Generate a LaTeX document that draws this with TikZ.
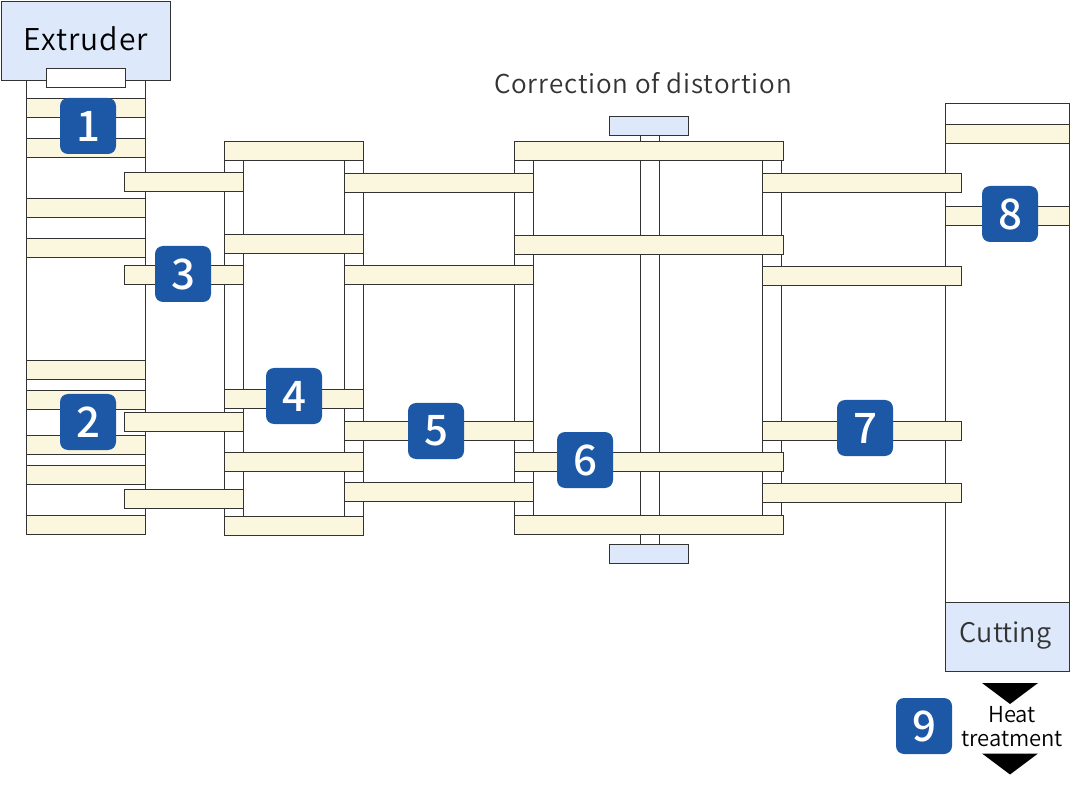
\documentclass[tikz,border=0pt]{standalone}
\usepackage{fontspec}
\setmainfont{Noto Sans CJK JP}[LetterSpace=0]
\newfontfamily\txtfont{Noto Sans CJK JP DemiLight}[LetterSpace=3.4]
\newfontfamily\tightfont{Noto Sans CJK JP DemiLight}
\newfontfamily\digitfont{Noto Sans CJK JP Medium}
\definecolor{ink}{HTML}{333333}
\definecolor{cream}{HTML}{FBF6DE}
\definecolor{pale}{HTML}{DDE9FA}
\definecolor{badgeblue}{HTML}{1D58A7}
\tikzset{
  line/.style={draw=ink,line width=0.9pt},
  tube/.style={line,fill=white},
  bar/.style={line,fill=cream},
  unit/.style={line,fill=pale},
  badge/.style={fill=badgeblue,text=white,rounded corners=8pt,minimum size=56pt,inner sep=0pt,font=\digitfont\fontsize{42}{42}\selectfont},
  label/.style={text=ink,inner sep=0pt,align=center},
  wedge/.style={fill=black}
}
\newcommand{\dg}[1]{\raisebox{-1.5pt}{#1}}
\begin{document}
\begin{tikzpicture}[x=1pt,y=-1pt]
\useasboundingbox (0,0) rectangle (1085,786);
% tubes
\draw[tube] (26.5,80) rectangle (145.5,534);
\draw[tube] (224.5,160) rectangle (243.5,516);
\draw[tube] (344.5,160) rectangle (363.5,516);
\draw[tube] (514.5,160) rectangle (533.5,515);
\draw[tube] (640.5,135) rectangle (659.5,544);
\draw[tube] (762.5,160) rectangle (781.5,515);
\draw[tube] (945.5,103.5) rectangle (1069.5,602);
% extruder
\draw[unit] (1.5,1.5) rectangle (170.5,80.5);
\draw[tube] (46.5,68.5) rectangle (125.5,87.5);
% bars column 1
\foreach \y in {98.5,138.5,198.5,238.5,360.5,390.5,435.5,465.5,515.5}
  \draw[bar] (26.5,\y) rectangle ++(119,19);
% bars column 2
\foreach \y in {172.5,265.5,412.5,489.5}
  \draw[bar] (124.5,\y) rectangle ++(119,19);
% bars column 3
\foreach \y in {141.5,234.5,389.5,452.5,516.5}
  \draw[bar] (224.5,\y) rectangle ++(139,19);
% bars column 4
\foreach \y in {173.5,265.5,421.5,482.5}
  \draw[bar] (344.5,\y) rectangle ++(189,19);
% bars column 5
\foreach \y in {141.5,235.5,452.5,515.5}
  \draw[bar] (514.5,\y) rectangle ++(269,19);
% bars column 6
\foreach \y in {173.5,266.5,421.5,483.5}
  \draw[bar] (762.5,\y) rectangle ++(199,19);
% bars column 7
\foreach \y in {124.5,206.5}
  \draw[bar] (945.5,\y) rectangle ++(124,19);
% correction units
\draw[unit] (609.5,116.5) rectangle (688.5,135.5);
\draw[unit] (609.5,544.5) rectangle (688.5,563.5);
% cutting
\draw[unit] (945.5,602.5) rectangle (1069.5,671.5);
% wedges
\fill[wedge] (982,683) -- (1038,683) -- (1010,704) -- cycle;
\fill[wedge] (982,753.5) -- (1038,753.5) -- (1010,774.5) -- cycle;
% texts
\node[label,font=\txtfont\fontsize{30}{30}\selectfont,text=black] (extruder) at (86,38.5) {Extruder};
\node[label,font=\txtfont\fontsize{26}{26}\selectfont] (correction) at (643,83.5) {Correction of distortion};
\node[label,font=\tightfont\fontsize{27}{27}\selectfont] (cutting) at (1005.5,635.5) {Cutting};
\node[label,font=\tightfont\fontsize{22}{24}\selectfont,text=black] (heat) at (1012,727) {Heat\\treatment};
% badges
\node[badge] (b1) at (88,126) {\dg{1}};
\node[badge] (b2) at (88,422) {\dg{2}};
\node[badge] (b3) at (183,274) {\dg{3}};
\node[badge] (b4) at (294,396) {\dg{4}};
\node[badge] (b5) at (436,431) {\dg{5}};
\node[badge] (b6) at (585,460) {\dg{6}};
\node[badge] (b7) at (865,428) {\dg{7}};
\node[badge] (b8) at (1010,214) {\dg{8}};
\node[badge] (b9) at (924,726) {\dg{9}};
\end{tikzpicture}
\end{document}
